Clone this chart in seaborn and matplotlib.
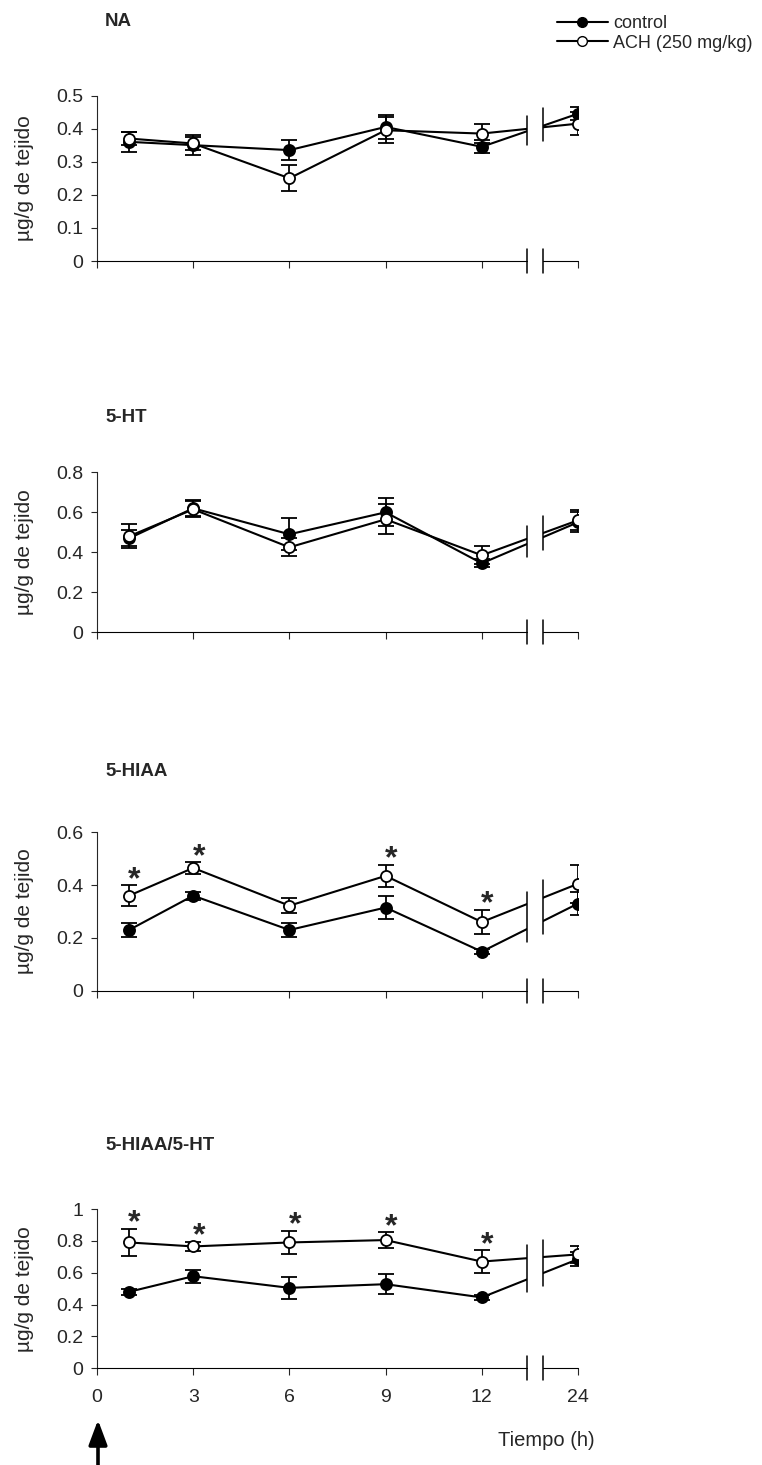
import numpy as np
import pandas as pd
import seaborn as sns
import matplotlib.pyplot as plt
from matplotlib.lines import Line2D

# sampling times (h) - 24 h sits after the axis break
times = [1, 3, 6, 9, 12, 24]
tick_times = [0, 3, 6, 9, 12, 24]

# NA
na_ctrl = [0.36, 0.35, 0.335, 0.405, 0.345, 0.445]
na_ctrl_sd = [0.03, 0.03, 0.03, 0.035, 0.02, 0.02]
na_ach = [0.37, 0.355, 0.25, 0.395, 0.385, 0.415]
na_ach_sd = [0.02, 0.02, 0.04, 0.04, 0.03, 0.035]
na_stars = ['', '', '', '', '', '']

# 5-HT
ht_ctrl = [0.47, 0.62, 0.49, 0.60, 0.345, 0.55]
ht_ctrl_sd = [0.04, 0.04, 0.08, 0.07, 0.02, 0.05]
ht_ach = [0.48, 0.615, 0.425, 0.565, 0.385, 0.56]
ht_ach_sd = [0.06, 0.04, 0.045, 0.075, 0.045, 0.05]
ht_stars = ['', '', '', '', '', '']

# 5-HIAA
hiaa_ctrl = [0.23, 0.36, 0.23, 0.315, 0.148, 0.33]
hiaa_ctrl_sd = [0.027, 0.015, 0.027, 0.042, 0.01, 0.042]
hiaa_ach = [0.36, 0.465, 0.322, 0.435, 0.26, 0.405]
hiaa_ach_sd = [0.04, 0.022, 0.028, 0.042, 0.046, 0.072]
hiaa_stars = ['*', '*', '', '*', '*', '']

# 5-HIAA/5-HT
ratio_ctrl = [0.48, 0.578, 0.505, 0.528, 0.445, 0.685]
ratio_ctrl_sd = [0.02, 0.04, 0.068, 0.063, 0.015, 0.045]
ratio_ach = [0.79, 0.765, 0.79, 0.805, 0.67, 0.715]
ratio_ach_sd = [0.087, 0.03, 0.075, 0.05, 0.07, 0.055]
ratio_stars = ['*', '*', '*', '*', '*', '']

titles = ['NA', '5-HT', '5-HIAA', '5-HIAA/5-HT']

W, H = 762, 1465
BRK_L, BRK_R, X_END = 13.4, 13.9, 15


def xpos(t):
    # broken time axis: everything after 12 h is squeezed to the end
    return t if t <= 12 else X_END


sns.set_style("ticks")
plt.rcParams['font.family'] = ['Liberation Sans', 'DejaVu Sans']

fig = plt.figure(figsize=(W / 100, H / 100), dpi=100)


def draw_panel(top_px, bot_px, title, title_px, ctrl, ctrl_sd, ach, ach_sd,
               stars, ymax, ystep, last=False):
    ax = fig.add_axes([97 / W, 1 - bot_px / H, 481 / W, (bot_px - top_px) / H])
    xs = [xpos(t) for t in times]
    df = pd.DataFrame({'x': xs, 'control': ctrl, 'ach': ach})

    ax.errorbar(xs, ctrl, yerr=ctrl_sd, fmt='none', ecolor='black',
                elinewidth=1.3, capsize=5.5, capthick=1.3, zorder=3)
    ax.errorbar(xs, ach, yerr=ach_sd, fmt='none', ecolor='black',
                elinewidth=1.3, capsize=5.5, capthick=1.3, zorder=3)
    sns.lineplot(data=df, x='x', y='control', color='black', lw=1.5,
                 marker='o', markersize=8, markerfacecolor='black',
                 markeredgecolor='black', markeredgewidth=1.3,
                 errorbar=None, ax=ax, zorder=4)
    sns.lineplot(data=df, x='x', y='ach', color='black', lw=1.5,
                 marker='o', markersize=8, markerfacecolor='white',
                 markeredgecolor='black', markeredgewidth=1.3,
                 errorbar=None, ax=ax, zorder=5)

    for x, y, s, st in zip(xs, ach, ach_sd, stars):
        if st:
            ax.annotate(st, xy=(x, y + s), xytext=(4, -7),
                        textcoords='offset points', ha='center', va='bottom',
                        fontsize=23, fontweight='bold')

    ax.set_xlim(0, X_END)
    ax.set_ylim(0, ymax)
    yt = np.arange(0, ymax + 1e-9, ystep)
    ax.set_yticks(yt)
    ax.set_yticklabels([f'{v:g}' for v in yt])
    ax.set_xticks([xpos(t) for t in tick_times])
    ax.set_xticklabels([str(t) for t in tick_times])

    for side in ['top', 'right', 'bottom']:
        ax.spines[side].set_visible(False)
    ax.spines['left'].set_linewidth(0.8)
    ax.tick_params(axis='y', direction='out', length=4, width=0.8,
                   labelsize=14, pad=6)
    ax.tick_params(axis='x', direction='out', length=5, width=0.8,
                   labelsize=14, pad=10, labelbottom=last)

    # gap in the lines between the break marks
    ax.axvspan(BRK_L, BRK_R, color='white', lw=0, zorder=6)
    # x axis drawn by hand with the break
    ax.plot([0, BRK_L], [0, 0], color='black', lw=0.8, clip_on=False, zorder=7)
    ax.plot([BRK_R, X_END], [0, 0], color='black', lw=0.8, clip_on=False, zorder=7)
    tr = ax.get_xaxis_transform()
    pad = 0.08 * ymax
    for xb, extra in [(BRK_L, 0), (BRK_R, 0.03 * ymax)]:
        ax.plot([xb, xb], [-0.075, 0.075], transform=tr, color='black',
                lw=1.1, clip_on=False, zorder=7)
        vals = [np.interp(xb, xs, ctrl), np.interp(xb, xs, ach)]
        ax.plot([xb, xb], [min(vals) - pad, max(vals) + pad + extra],
                color='black', lw=1.1, zorder=7)

    ax.set_xlabel('')
    ax.set_ylabel('µg/g de tejido', fontsize=15)
    ax.yaxis.set_label_coords(-0.13, 0.5)

    fig.text(105 / W, 1 - title_px / H, title, fontsize=13.5,
             fontweight='bold', ha='left', va='center')
    return ax


draw_panel(95.5, 261, titles[0], 22, na_ctrl, na_ctrl_sd, na_ach, na_ach_sd,
           na_stars, 0.5, 0.1)
draw_panel(472.3, 632.3, titles[1], 418, ht_ctrl, ht_ctrl_sd, ht_ach, ht_ach_sd,
           ht_stars, 0.8, 0.2)
draw_panel(832.3, 990.7, titles[2], 772, hiaa_ctrl, hiaa_ctrl_sd, hiaa_ach,
           hiaa_ach_sd, hiaa_stars, 0.6, 0.2)
ax4 = draw_panel(1209, 1368.3, titles[3], 1146, ratio_ctrl, ratio_ctrl_sd,
                 ratio_ach, ratio_ach_sd, ratio_stars, 1.0, 0.2, last=True)

handles = [
    Line2D([], [], color='black', lw=1.5, marker='o', markersize=7,
           markerfacecolor='black', markeredgecolor='black'),
    Line2D([], [], color='black', lw=1.5, marker='o', markersize=7,
           markerfacecolor='white', markeredgecolor='black'),
]
fig.legend(handles, ['control', 'ACH (250 mg/kg)'], loc='upper left',
           bbox_to_anchor=(557 / W, 1 - 15 / H), frameon=False, fontsize=13,
           handlelength=2.8, handletextpad=0.3, labelspacing=0.15,
           borderpad=0, borderaxespad=0)

fig.text(546 / W, 1 - 1440 / H, 'Tiempo (h)', fontsize=14.5,
         ha='center', va='center')

# arrow marking the administration at t = 0
ax4.annotate('', xy=(98, H - 1420), xycoords='figure pixels',
             xytext=(98, -2), textcoords='figure pixels',
             arrowprops=dict(arrowstyle='-|>,head_length=0.75,head_width=0.28',
                             lw=2.6, color='black', mutation_scale=20,
                             shrinkA=0, shrinkB=0),
             annotation_clip=False)

fig.savefig('out.png', dpi=100)
